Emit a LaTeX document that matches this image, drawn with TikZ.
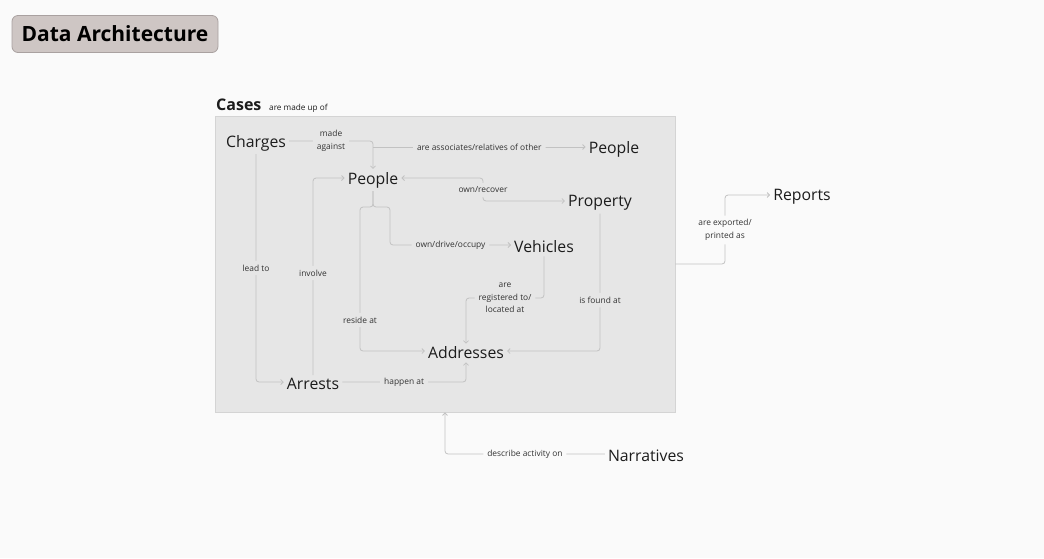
\documentclass[tikz,border=0pt]{standalone}
\usepackage{fontspec}
\setmainfont{Open Sans}
\usetikzlibrary{arrows.meta}
\definecolor{bg}{HTML}{FAFAFA}
\definecolor{boxfill}{HTML}{E6E6E6}
\definecolor{boxline}{HTML}{D4D4D4}
\definecolor{conncol}{HTML}{C2C2C2}
\definecolor{titlefill}{HTML}{CEC6C4}
\definecolor{titleline}{HTML}{A9A1A0}
\definecolor{txt}{HTML}{1C1C1C}
\definecolor{lbltxt}{HTML}{333333}
\tikzset{
  ent/.style={font=\fontsize{15.8}{18}\selectfont, text=txt, inner sep=3pt},
  lbl/.style={font=\fontsize{8.4}{12.5}\selectfont, text=lbltxt, fill=boxfill, inner sep=4pt, align=center},
  lblout/.style={lbl, fill=bg},
  conn/.style={draw=conncol, line width=0.8pt, rounded corners=3pt},
  arr/.style={conn, -{Straight Barb[length=2.5pt,width=5pt]}},
  darr/.style={conn, {Straight Barb[length=2.5pt,width=5pt]}-{Straight Barb[length=2.5pt,width=5pt]}},
}
\begin{document}
\begin{tikzpicture}[x=1pt,y=-1pt]
\fill[bg] (0,0) rectangle (1044,558);
\useasboundingbox (0,0) rectangle (1044,558);

% title
\node (title) [draw=titleline, fill=titlefill, rounded corners=6pt, line width=0.8pt,
  minimum width=206, minimum height=37, font=\fontsize{21}{24}\selectfont\bfseries, text=black]
  at (115,34) {Data Architecture};

% cases box
\node (box) [draw=boxline, fill=boxfill, line width=0.8pt, minimum width=460, minimum height=296, inner sep=0]
  at (445,264) {};
\node (cases) [anchor=base west, font=\fontsize{16}{18}\selectfont\bfseries, text=txt, inner sep=0] at (216,110) {Cases};
\node (madeup) [anchor=base west, font=\fontsize{8.2}{9}\selectfont, text=txt, inner sep=0] at (269,110) {are made up of};

% entities
\node (ch) [ent] at (256,143) {Charges};
\node (p1) [ent] at (373,180) {People};
\node (p2) [ent] at (614,149) {People};
\node (pr) [ent] at (600,203) {Property};
\node (v)  [ent] at (544,247) {Vehicles};
\node (ad) [ent] at (466,353) {Addresses};
\node (ar) [ent] at (313,384) {Arrests};
\node (rep)[ent] at (802,197) {Reports};
\node (nar)[ent] at (646,456) {Narratives};

\coordinate (ab) at (373,147);

% connectors
\draw[arr] (ch.east |- 0,141) -- node[lbl]{made\\against} (373,141) -- (p1.north);
\draw[arr] (ab) -- node[lbl]{are associates/relatives of other} (p2.west |- ab);
\draw[darr] (p1.east |- 0,178) -- (483,178) -- (483,190) node[lbl]{own/recover} |- (pr.west |- 0,201);
\draw[arr] (p1.south) -- (373,207) -| (390,245) -- node[lbl]{own/drive/occupy} (v.west |- 0,245);
\draw[arr] (p1.south) -- (373,207) -| (360,320) node[lbl]{reside at} |- (ad.west |- 0,351);
\draw[arr] (ch.south) -- (256,268) node[lbl]{lead to} |- (ar.west |- 0,382);
\draw[arr] (ar.north) -- (313,273) node[lbl]{involve} |- (p1.west |- 0,178);
\draw[arr] (v.south) -- (544,298) -- node[lbl]{are\\registered to/\\located at} (466,298) -- (ad.north);
\draw[arr] (pr.south) -- (600,300) node[lbl]{is found at} |- (ad.east |- 0,351);
\draw[arr] (ar.east |- 0,382) -- node[lbl]{happen at} (466,382) -- (ad.south);

\draw[arr] (box.east) -- (725,264) -- (725,230) node[lblout]{are exported/\\printed as} |- (rep.west |- 0,195);
\draw[arr] (nar.west |- 0,454) -- node[lblout]{describe activity on} (445,454) -- (box.south);
\end{tikzpicture}
\end{document}
